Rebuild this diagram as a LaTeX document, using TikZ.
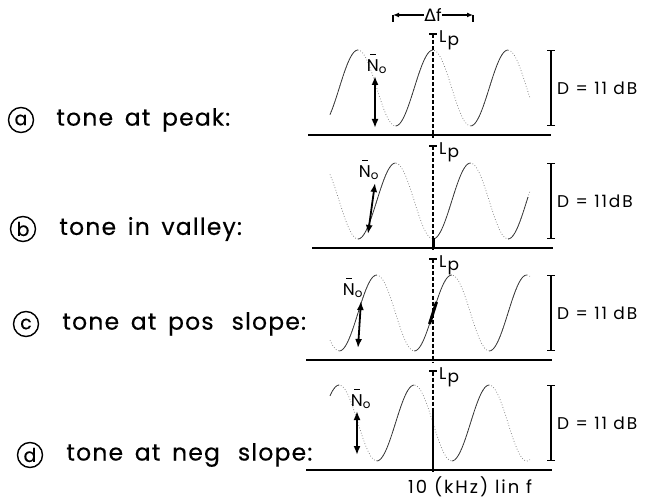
\documentclass[tikz,border=0pt]{standalone}
\usepackage{fontspec}
\newfontfamily\lblfont[LetterSpace=5,FakeBold=0.4]{Poppins}
\newfontfamily\smlfont[LetterSpace=11]{Poppins}
\newfontfamily\grkfont{DejaVu Sans}
\usetikzlibrary{arrows.meta,positioning}
\newcommand{\lp}{L\kern0.06em\raisebox{-0.3ex}{p}}
\newcommand{\nbar}{\makebox[0pt][l]{\hspace{0.2em}\raisebox{0.95em}{\rule{0.32em}{0.08em}}}N\textsubscript{o}}
\newcommand{\gap}{\hspace{0.18em}}

\begin{document}
\begin{tikzpicture}[
x=1pt, y=-1pt,
base/.style={line width=1.6pt},
rise/.style={line width=0.75pt, black!80},
fall/.style={line width=0.75pt, dotted, black!50},
lpline/.style={{Bar[width=8pt,line width=2pt]}-, line width=1.6pt, dash pattern=on 4pt off 2pt},
tonemark/.style={line width=3pt},
noarrow/.style={{Latex[length=9pt,width=7pt]}-{Latex[length=9pt,width=7pt]}, line width=1.8pt},
dbar/.style={{Bar[width=8pt]}-{Bar[width=8pt]}, line width=1.3pt},
dfarrow/.style={-{Latex[length=6pt,width=5pt]}, line width=1.3pt},
letter/.style={circle, draw, line width=1.4pt, minimum size=25pt, inner sep=0pt, font=\lblfont\fontsize{19}{19}\selectfont},
tone/.style={inner sep=0pt, font=\lblfont\fontsize{23.5}{27}\selectfont},
small/.style={inner sep=0pt, font=\smlfont\fontsize{17}{19}\selectfont}
]
\useasboundingbox (0,0) rectangle (647,502);

% labels on the left
\node (la) [letter] at (21,120) {a};
\node (ta) [tone, right=22pt of la] {tone \gap at \gap peak:};
\node (lb) [letter] at (23,229) {b};
\node (tb) [tone, right=23pt of lb] {tone \gap in \gap valley:};
\node (lc) [letter] at (26,324) {c};
\node (tc) [tone, right=23pt of lc] {tone \gap at \gap pos\hspace{0.45em} slope:};
\node (ld) [letter] at (30,455) {d};
\node (td) [tone, right=23pt of ld] {tone \gap at \gap neg\hspace{0.45em} slope:};

% delta f
\node (df) [small] at (433,15) {{\grkfont Δ}f};
\coordinate (dfl) at (393,15);
\coordinate (dfr) at (473,15);
\draw[dfarrow] (df) -- (dfl);
\draw[dfarrow] (df) -- (dfr);
\draw[line width=1.3pt] (dfl) -- ++(0,7);
\draw[line width=1.3pt] (dfr) -- ++(0,7);

% (a) tone at peak
\draw[base] (308,135) -- (551,135);
\draw[fall] plot[domain=330:530, samples=80] (\x,{88-38*sin(4.8*(\x-414.25))});
\foreach \s/\e in {330/358,395.5/433,470.5/508}
  \draw[rise] plot[domain=\s:\e, samples=25] (\x,{88-38*sin(4.8*(\x-414.25))});
\coordinate (lpa) at (433,33);
\draw[lpline] (lpa) -- (433,138);
\node (lpta) [small, right=6pt of lpa, yshift=-7pt] {\lp};
\node (noa) [small] at (377,64) {\nbar};
\coordinate (nta) at (375,76);
\coordinate (nba) at (375,128);
\draw[noarrow] (nta) -- (nba);
\coordinate (dta) at (551,50);
\coordinate (dba) at (551,126);
\draw[dbar] (dta) -- (dba);
\node (da) [small, anchor=west] at (557,88) {D = 11 dB};

% (b) tone in valley
\draw[base] (312,248) -- (553,248);
\draw[fall] plot[domain=330:530, samples=80] (\x,{201-38*sin(4.8*(\x-451.75))});
\foreach \s/\e in {358/395.5,433/470.5,508/528}
  \draw[rise] plot[domain=\s:\e, samples=25] (\x,{201-38*sin(4.8*(\x-451.75))});
\coordinate (lpb) at (433,145);
\draw[lpline] (lpb) -- (433,250);
\draw[tonemark] (433,238) -- (433,247);
\node (lptb) [small, right=6pt of lpb, yshift=-7pt] {\lp};
\node (nob) [small] at (369,170) {\nbar};
\coordinate (ntb) at (375,183);
\coordinate (nbb) at (368,234);
\draw[noarrow] (ntb) -- (nbb);
\coordinate (dtb) at (551,163);
\coordinate (dbb) at (551,239);
\draw[dbar] (dtb) -- (dbb);
\node (db) [small, anchor=west] at (557,201) {D = 11dB};

% (c) tone at pos slope
\draw[base] (306,360) -- (552,360);
\draw[fall] plot[domain=330:530, samples=80] (\x,{313-38*sin(4.8*(\x-433))});
\foreach \s/\e in {339.25/376.75,414.25/451.75,489.25/526.75}
  \draw[rise] plot[domain=\s:\e, samples=25] (\x,{313-38*sin(4.8*(\x-433))});
\coordinate (lpc) at (433,258);
\draw[lpline] (lpc) -- (433,363);
\draw[tonemark] (429.5,324) -- (436.5,302);
\node (lptc) [small, right=6pt of lpc, yshift=-7pt] {\lp};
\node (noc) [small] at (353,288) {\nbar};
\coordinate (ntc) at (361,301);
\coordinate (nbc) at (358,348);
\draw[noarrow] (ntc) -- (nbc);
\coordinate (dtc) at (551,275);
\coordinate (dbc) at (551,351);
\draw[dbar] (dtc) -- (dbc);
\node (dc) [small, anchor=west] at (557,313) {D = 11 dB};

% (d) tone at neg slope
\draw[base] (306,470) -- (552,470);
\draw[fall] plot[domain=330:530, samples=80] (\x,{423-38*sin(4.8*(\x-395.5))});
\foreach \s/\e in {330/339.25,376.75/414.25,451.75/489.25}
  \draw[rise] plot[domain=\s:\e, samples=25] (\x,{423-38*sin(4.8*(\x-395.5))});
\coordinate (lpd) at (433,370);
\draw[lpline] (lpd) -- (433,412);
\draw[line width=1.8pt] (433,412) -- (433,472);
\node (lptd) [small, right=6pt of lpd, yshift=-7pt] {\lp};
\node (nod) [small] at (361,399) {\nbar};
\coordinate (ntd) at (357,411);
\coordinate (nbd) at (357,455);
\draw[noarrow] (ntd) -- (nbd);
\coordinate (dtd) at (551,385);
\coordinate (dbd) at (551,461);
\draw[dbar] (dtd) -- (dbd);
\node (dd) [small, anchor=west] at (557,423) {D = 11 dB};
\node (fx) [small, anchor=west, font=\smlfont\fontsize{18}{20}\selectfont] at (408,487) {10 (kHz) lin f};
\end{tikzpicture}
\end{document}
